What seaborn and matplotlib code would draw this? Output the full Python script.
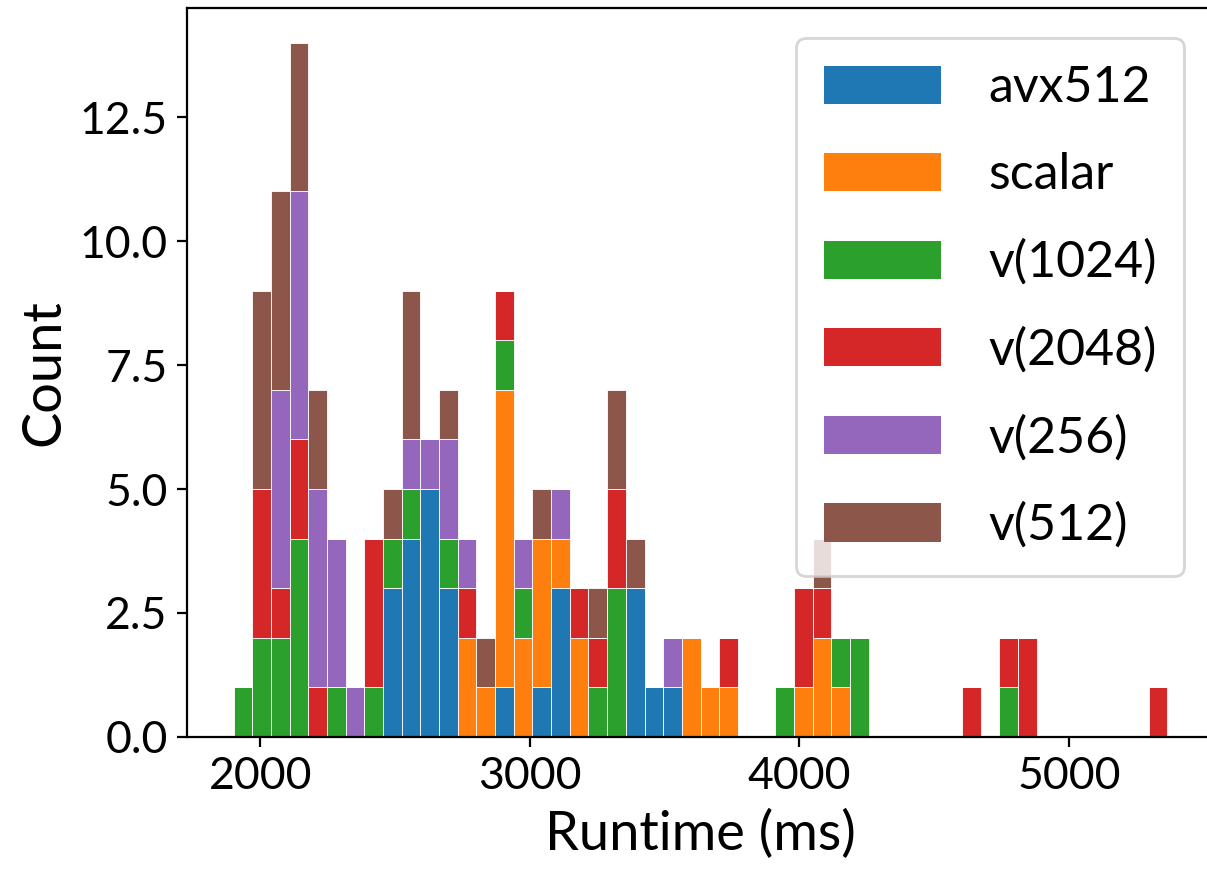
import numpy as np
import pandas as pd
import matplotlib
matplotlib.use('Agg')
import matplotlib.pyplot as plt
from matplotlib.ticker import MultipleLocator, FormatStrFormatter
import seaborn as sns

variants = ['avx512', 'scalar', 'v(1024)', 'v(2048)', 'v(256)', 'v(512)']

# 50 bins over the runtime range (ms)
bin_lo, bin_hi, n_bins = 1901, 5366, 50

# counts per bin
avx512 = [0, 0, 0, 0, 0, 0, 0, 0, 3, 4,
          5, 3, 0, 0, 1, 0, 1, 3, 0, 0,
          0, 3, 1, 1, 0, 0, 0, 0, 0, 0,
          0, 0, 0, 0, 0, 0, 0, 0, 0, 0,
          0, 0, 0, 0, 0, 0, 0, 0, 0, 0]
scalar = [0, 0, 0, 0, 0, 0, 0, 0, 0, 0,
          0, 0, 2, 1, 6, 2, 3, 1, 2, 0,
          0, 0, 0, 0, 2, 1, 1, 0, 0, 0,
          1, 2, 1, 0, 0, 0, 0, 0, 0, 0,
          0, 0, 0, 0, 0, 0, 0, 0, 0, 0]
v1024 = [1, 2, 2, 4, 0, 1, 0, 1, 1, 1,
         0, 1, 0, 0, 1, 1, 0, 0, 0, 1,
         3, 0, 0, 0, 0, 0, 0, 0, 0, 1,
         0, 0, 1, 2, 0, 0, 0, 0, 0, 0,
         0, 1, 0, 0, 0, 0, 0, 0, 0, 0]
v2048 = [0, 3, 1, 2, 1, 0, 0, 3, 0, 0,
         0, 0, 1, 0, 1, 0, 0, 0, 1, 1,
         2, 0, 0, 0, 0, 0, 1, 0, 0, 0,
         2, 1, 0, 0, 0, 0, 0, 0, 0, 1,
         0, 1, 2, 0, 0, 0, 0, 0, 0, 1]
v256 = [0, 0, 4, 5, 4, 3, 1, 0, 0, 1,
        1, 2, 1, 0, 0, 1, 0, 1, 0, 0,
        0, 0, 0, 1, 0, 0, 0, 0, 0, 0,
        0, 0, 0, 0, 0, 0, 0, 0, 0, 0,
        0, 0, 0, 0, 0, 0, 0, 0, 0, 0]
v512 = [0, 4, 4, 3, 2, 0, 0, 0, 1, 3,
        0, 1, 0, 1, 0, 0, 1, 0, 0, 1,
        2, 1, 0, 0, 0, 0, 0, 0, 0, 0,
        0, 1, 0, 0, 0, 0, 0, 0, 0, 0,
        0, 0, 0, 0, 0, 0, 0, 0, 0, 0]

edges = np.linspace(bin_lo, bin_hi, n_bins + 1)
centers = (edges[:-1] + edges[1:]) / 2

rows = []
for name, counts in zip(variants, [avx512, scalar, v1024, v2048, v256, v512]):
    for c, n in zip(centers, counts):
        if n:
            rows.append((c, name, n))
df = pd.DataFrame(rows, columns=['Runtime (ms)', 'variant', 'n'])

plt.rcParams['font.family'] = ['Lato', 'DejaVu Sans']

palette = dict(zip(variants, sns.color_palette('tab10', len(variants))))

fig = plt.figure(figsize=(6.035, 4.38), dpi=200)
ax = fig.add_axes([0.1549, 0.1587, 0.851, 0.8322])

# reversed hue order so avx512 sits at the bottom of each stack
sns.histplot(data=df, x='Runtime (ms)', hue='variant', hue_order=variants[::-1],
             palette=palette, weights='n', multiple='stack', bins=n_bins,
             binrange=(bin_lo, bin_hi), alpha=1, edgecolor='white',
             linewidth=0.3, ax=ax)

ax.set_xlabel('Runtime (ms)', fontsize=19.5)
ax.set_ylabel('Count', fontsize=19.5)
ax.tick_params(labelsize=16)
ax.yaxis.set_major_locator(MultipleLocator(2.5))
ax.yaxis.set_major_formatter(FormatStrFormatter('%.1f'))

old = ax.get_legend()
handles = dict(zip([t.get_text() for t in old.get_texts()], old.legend_handles))
old.remove()
hs = [handles[v] for v in variants]
for h in hs:
    h.set_linewidth(0)
ax.legend(hs, variants, loc='upper right', fontsize=18, handlelength=2.34,
          handleheight=0.8, borderaxespad=0.6, labelspacing=0.82,
          borderpad=0.55, handletextpad=0.95)

fig.savefig('out.png', dpi=200)
